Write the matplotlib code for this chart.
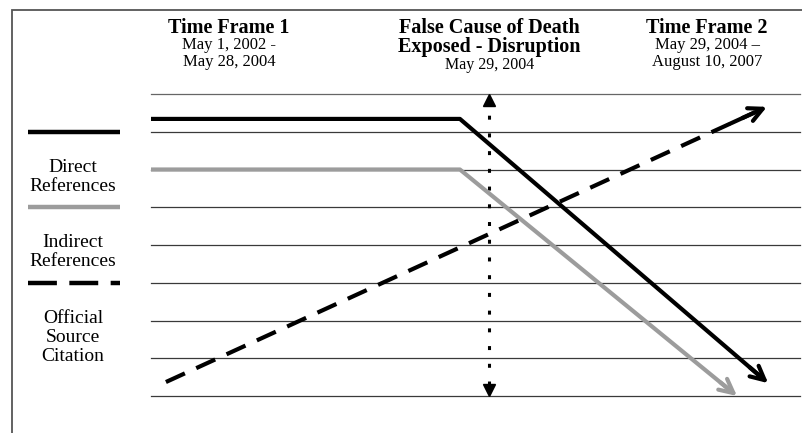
import matplotlib.pyplot as plt
from matplotlib.patches import Rectangle

# --- data (conceptual units: x = timeline 0..100, y = level 0..8) ---
grid_levels = [0, 1, 2, 3, 4, 5, 6, 7, 8]

direct_x = [0, 47.6, 95.1]
direct_y = [7.34, 7.34, 0.34]

indirect_x = [0, 47.6, 90.3]
indirect_y = [6.0, 6.0, 0.0]

official_x = [2.3, 94.9]
official_y = [0.37, 7.66]

disruption_x = 52.1
disruption_y = [0.03, 7.95]

legend_labels = [["Direct", "References"], ["Indirect", "References"],
                 ["Official", "Source", "Citation"]]
legend_line_y = [7.0, 5.0, 3.0]
legend_text_top = [6.06, 4.07, 2.05]

header_x = [12.0, 52.1, 85.7]
header_titles = [["Time Frame 1"], ["False Cause of Death", "Exposed - Disruption"], ["Time Frame 2"]]
header_dates = [["May 1, 2002 -", "May 28, 2004"], ["May 29, 2004"],
                ["May 29, 2004 \u2013", "August 10, 2007"]]

plt.rcParams["font.family"] = ["Liberation Serif", "DejaVu Serif"]

fig = plt.figure(figsize=(8.03, 4.33), dpi=100)
fig.patch.set_facecolor("white")
ax = fig.add_axes([151 / 803, 1 - 396 / 433, 649 / 803, 302 / 433])
ax.set_xlim(0, 100)
ax.set_ylim(0, 8)
ax.axis("off")

# outer frame (left and top edges visible)
fig.patches.append(Rectangle((12 / 803, -0.5), 1.2, 1.5 - 10 / 433, transform=fig.transFigure,
                             fill=False, edgecolor="#555555", linewidth=1.3))

for lv in grid_levels:
    ax.axhline(lv, color="#3a3a3a" if lv < 8 else "#666666", linewidth=0.9,
               zorder=1, clip_on=False)


def arrow_line(xs, ys, color, lw, dashes=None):
    kw = dict(color=color, linewidth=lw, solid_capstyle="butt", zorder=3)
    end_x = xs[-1] - (xs[-1] - xs[-2]) * 0.02
    end_y = ys[-1] - (ys[-1] - ys[-2]) * 0.02
    if dashes:
        ax.plot(xs[:-1] + [end_x], ys[:-1] + [end_y], dashes=dashes, **kw)
    else:
        ax.plot(xs[:-1] + [end_x], ys[:-1] + [end_y], **kw)
    x0 = xs[-1] - (xs[-1] - xs[-2]) * 0.06
    y0 = ys[-1] - (ys[-1] - ys[-2]) * 0.06
    ax.annotate("", xy=(xs[-1], ys[-1]), xytext=(x0, y0),
                arrowprops=dict(arrowstyle="->,head_length=1.0,head_width=0.5",
                                color=color, lw=lw, shrinkA=0, shrinkB=0),
                zorder=4)


arrow_line(direct_x, direct_y, "black", 3.0)
arrow_line(indirect_x, indirect_y, "#9c9c9c", 3.0)
arrow_line(official_x, official_y, "black", 3.0, dashes=(5, 3))

# disruption marker
ax.plot([disruption_x, disruption_x], [disruption_y[0] + 0.25, disruption_y[1] - 0.25],
        color="black", linewidth=2.2, dashes=(1.3, 4.5), zorder=2)
ax.plot([disruption_x], [disruption_y[1] - 0.12], marker="^", color="black", markersize=8, zorder=3)
ax.plot([disruption_x], [disruption_y[0] + 0.12], marker="v", color="black", markersize=8, zorder=3)

# legend at left
ax.plot([-19, -4.8], [legend_line_y[0]] * 2, color="black", linewidth=3.2,
        solid_capstyle="butt", clip_on=False)
ax.plot([-19, -4.8], [legend_line_y[1]] * 2, color="#9c9c9c", linewidth=3.2,
        solid_capstyle="butt", clip_on=False)
ax.plot([-19, -4.8], [legend_line_y[2]] * 2, color="black", linewidth=3.2,
        dashes=(6.5, 2.8), solid_capstyle="butt", clip_on=False)

px = 1 / 37.75  # one pixel in y data units
for lines, top in zip(legend_labels, legend_text_top):
    for i, txt in enumerate(lines):
        ax.text(-12, top - i * 19 * px, txt, ha="center", va="center",
                fontsize=14, clip_on=False)

# headers
for hx, titles, dates in zip(header_x, header_titles, header_dates):
    y = 9.76
    for t in titles:
        ax.text(hx, y, t, ha="center", va="center", fontsize=14.5,
                fontweight="bold", clip_on=False)
        y -= 19 * px
    y += 19 * px - (17 * px if len(titles) == 1 else 18 * px)
    for d in dates:
        ax.text(hx, y, d, ha="center", va="center", fontsize=12 if len(titles) == 1 else 11.5,
                clip_on=False)
        y -= 17 * px

fig.savefig("out.png", dpi=100)
